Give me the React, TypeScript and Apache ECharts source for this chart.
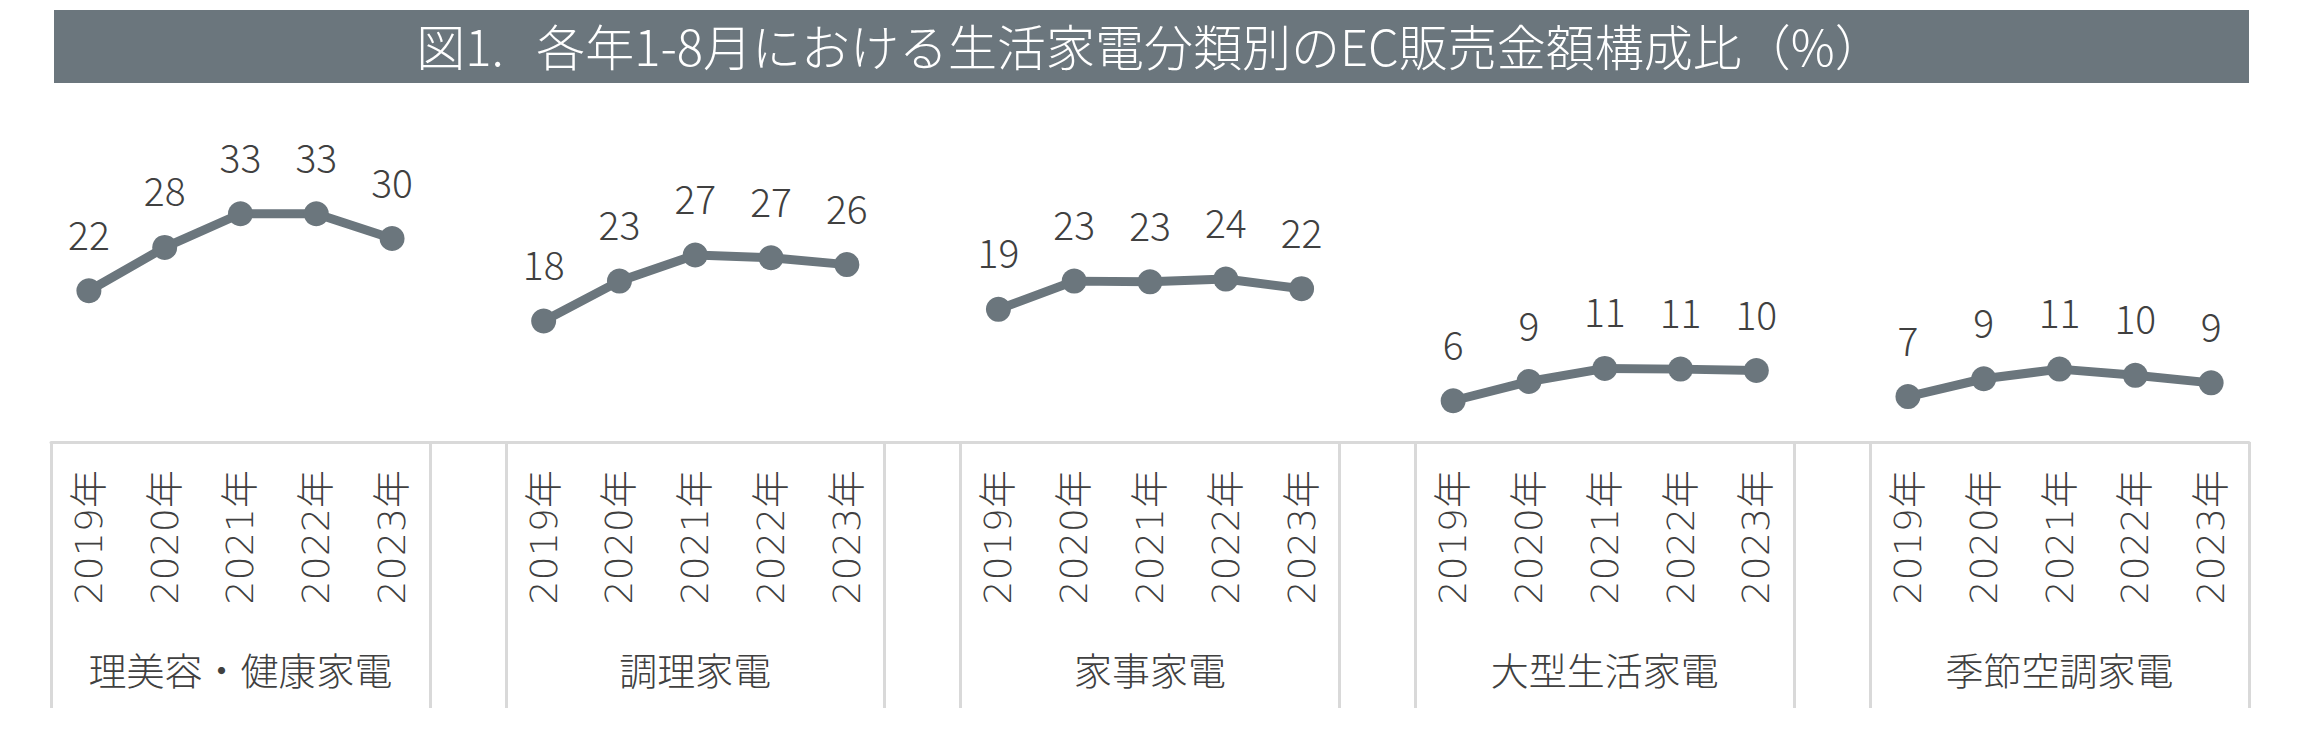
import React, { useEffect, useRef } from "react";
import * as echarts from "echarts";

// ---- data ----
const titleText = "図1.   各年1-8月における生活家電分類別のEC販売金額構成比（%）";
const years = ["2019年", "2020年", "2021年", "2022年", "2023年"];
const groups = ["理美容・健康家電", "調理家電", "家事家電", "大型生活家電", "季節空調家電"];
const beautyHealth = [22.0, 28.3, 33.2, 33.2, 29.6];
const cooking = [17.6, 23.4, 27.2, 26.8, 25.8];
const housework = [19.3, 23.4, 23.3, 23.7, 22.3];
const largeLiving = [6.0, 8.8, 10.7, 10.6, 10.4];
const seasonalAir = [6.6, 9.2, 10.6, 9.7, 8.6];
const groupValues = [beautyHealth, cooking, housework, largeLiving, seasonalAir];

// ---- style ----
const GRAY = "#6b767d";
const TEXT = "#404040";
const RULE = "#d9d9d9";
const FONT = "'Noto Sans CJK JP', 'Noto Sans', sans-serif";
const YEAR_FONT = "'DejaVu Sans', 'Noto Sans CJK JP', sans-serif";

export default function App() {
  const ref = useRef<HTMLDivElement>(null);

  useEffect(() => {
    if (!ref.current) return;
    const chart = echarts.init(ref.current, null, { renderer: "svg" });

    // multi-level category axis: 5 years per group, one blank slot between groups
    const yearCats: string[] = [];
    const groupCats: string[] = [];
    groups.forEach((g, gi) => {
      years.forEach((y, yi) => {
        yearCats.push(y);
        groupCats.push(yi === Math.floor(years.length / 2) ? g : "");
      });
      if (gi < groups.length - 1) {
        yearCats.push("");
        groupCats.push("");
      }
    });
    const slot = years.length + 1;

    const series = groupValues.map((vals, gi) => {
      const data: (number | null)[] = yearCats.map(() => null);
      vals.forEach((v, yi) => {
        data[gi * slot + yi] = v;
      });
      return {
        type: "line",
        name: groups[gi],
        data,
        xAxisIndex: 0,
        yAxisIndex: 0,
        symbol: "circle",
        symbolSize: 25,
        connectNulls: false,
        lineStyle: { color: GRAY, width: 9 },
        itemStyle: { color: GRAY },
        label: {
          show: true,
          position: "top",
          distance: 26,
          fontSize: 39,
          fontWeight: 300,
          fontFamily: FONT,
          color: TEXT,
          formatter: (p: any) => (p.value == null ? "" : String(Math.round(p.value))),
        },
        emphasis: { disabled: true },
      };
    });

    chart.setOption({
      animation: false,
      backgroundColor: "#ffffff",
      title: {
        text: titleText,
        left: "center",
        top: 20,
        padding: 0,
        textStyle: { color: "#ffffff", fontSize: 49, fontWeight: 300, fontFamily: FONT },
      },
      graphic: [
        {
          type: "rect",
          z: -1,
          shape: { x: 54, y: 10, width: 2195, height: 73 },
          style: { fill: GRAY },
        },
      ],
      grid: [
        { left: 51, right: 51, top: 167, bottom: 290, outerBoundsMode: "none" },
        { left: 51, right: 51, top: 442, bottom: 24, outerBoundsMode: "none" },
      ],
      xAxis: [
        {
          gridIndex: 0,
          type: "category",
          data: yearCats,
          boundaryGap: true,
          position: "bottom",
          axisLine: { show: true, lineStyle: { color: RULE, width: 3 } },
          axisTick: { show: false },
          axisLabel: {
            interval: 0,
            rotate: 90,
            margin: 28,
            fontSize: 38,
            fontWeight: 300,
            fontFamily: YEAR_FONT,
            color: TEXT,
          },
          splitLine: { show: false },
        },
        {
          gridIndex: 0,
          type: "category",
          data: groupCats,
          boundaryGap: true,
          position: "bottom",
          offset: 199,
          axisLine: { show: false },
          axisTick: { show: false },
          axisLabel: {
            interval: 0,
            margin: 8,
            fontSize: 38,
            fontWeight: 300,
            fontFamily: FONT,
            color: TEXT,
          },
          splitLine: { show: false },
        },
        {
          gridIndex: 1,
          type: "category",
          data: yearCats,
          boundaryGap: true,
          axisLine: { show: false },
          axisTick: { show: false },
          axisLabel: { show: false },
          splitLine: {
            show: true,
            interval: (index: number) => index % slot === 0 || index % slot === years.length,
            lineStyle: { color: RULE, width: 3 },
          },
        },
      ],
      yAxis: [
        { gridIndex: 0, type: "value", min: 0, max: 40, show: false },
        { gridIndex: 1, type: "value", min: 0, max: 1, show: false },
      ],
      series,
    });

    return () => chart.dispose();
  }, []);

  return (
    <div
      ref={ref}
      style={{ position: "fixed", left: 0, top: 0, width: 2300, height: 732, background: "#fff" }}
    />
  );
}
